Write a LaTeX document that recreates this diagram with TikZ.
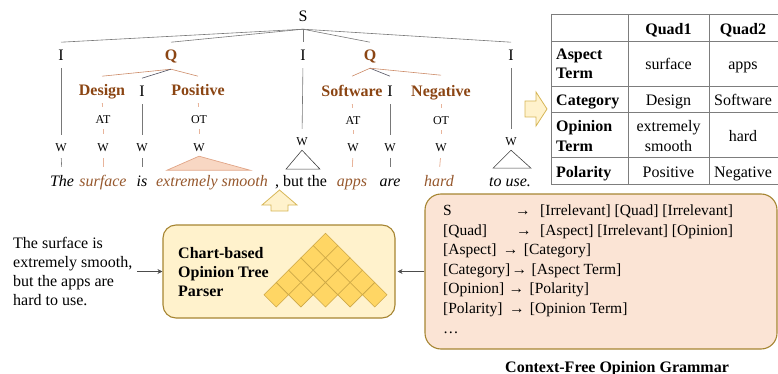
\documentclass[tikz,border=0pt]{standalone}
\usepackage{fontspec}
\setmainfont{Liberation Serif}
\usetikzlibrary{arrows.meta,calc}
\definecolor{brw}{RGB}{139,69,19}
\definecolor{brwit}{RGB}{150,88,45}
\definecolor{salm}{RGB}{232,180,155}
\definecolor{salmd}{RGB}{205,140,105}
\definecolor{trifill}{RGB}{248,215,195}
\definecolor{tridraw}{RGB}{225,165,135}
\definecolor{pbfill}{RGB}{255,242,204}
\definecolor{pbdraw}{RGB}{166,133,50}
\definecolor{arrdraw}{RGB}{214,182,86}
\definecolor{dmfill}{RGB}{255,214,100}
\definecolor{dmdraw}{RGB}{205,168,70}
\definecolor{gbfill}{RGB}{251,228,213}
\definecolor{tline}{RGB}{125,125,125}
\definecolor{treeg}{RGB}{120,120,120}
\definecolor{qig}{RGB}{80,80,95}
\newcommand\myfs{\fontsize{16}{19}\selectfont}
\newcommand\mygr{\fontsize{15.5}{19}\selectfont}
\newcommand\mysm{\fontsize{12}{14}\selectfont}
\begin{document}
\begin{tikzpicture}[x=1pt,y=-1pt,
  lab/.style={inner sep=0pt,anchor=base,font=\myfs,text height=10.6pt,text depth=0pt},
  blab/.style={lab,font=\myfs\bfseries,text=brw},
  sml/.style={inner sep=0pt,anchor=base,font=\mysm,text height=7.9pt,text depth=0pt},
  wrd/.style={inner sep=0pt,anchor=base,font=\myfs\itshape,text height=11pt,text depth=0pt},
  bwrd/.style={wrd,text=brwit},
  gl/.style={draw=treeg,line width=0.6pt},
  sl/.style={draw=salm,line width=0.8pt},
  qsl/.style={draw=salmd,line width=0.6pt},
  qil/.style={draw=qig,line width=0.6pt},
  toW/.style={shorten <=7pt,shorten >=9pt},
  toAT/.style={shorten <=7pt,shorten >=9pt},
  atW/.style={shorten <=5pt,shorten >=10pt},
  wWd/.style={shorten <=6pt,shorten >=8pt},
  conn/.style={draw=black!70,line width=0.6pt,-{Stealth[length=5pt,width=5pt]}},
  txt/.style={inner sep=0pt,anchor=base west,font=\myfs},
  gtxt/.style={inner sep=0pt,anchor=base west,font=\mygr},
  btxt/.style={txt,font=\myfs\bfseries},
  ctxt/.style={inner sep=0pt,anchor=base,font=\myfs},
  fatarrow/.style={fill=pbfill,draw=arrdraw,line width=0.8pt,line join=miter}
]
\useasboundingbox (0,0) rectangle (778,374);

% ---------------- tree ----------------
\node[lab] (S) at (303,22) {S};
\node[lab] (I1) at (61,61) {I};
\node[blab] (Q1) at (171,61) {Q};
\node[lab] (I2) at (303,61) {I};
\node[blab] (Q2) at (370,61) {Q};
\node[lab] (I3) at (511,61) {I};

\node[blab] (Des) at (102,96) {Design};
\node[lab] (Ia) at (142,97) {I};
\node[blab] (Pos) at (198,96) {Positive};
\node[blab] (Sof) at (352,97) {Software};
\node[lab] (Ib) at (390,97) {I};
\node[blab] (Neg) at (441,97) {Negative};

\node[sml] (AT1) at (103,124) {AT};
\node[sml] (OT1) at (199,124) {OT};
\node[sml] (AT2) at (353,125) {AT};
\node[sml] (OT2) at (441,125) {OT};

\node[sml] (W1) at (61,152) {W};
\node[sml] (W2) at (103,152) {W};
\node[sml] (W3) at (142,152) {W};
\node[sml] (W4) at (199,152) {W};
\node[sml] (W5) at (302,146) {W};
\node[sml] (W6) at (353,152) {W};
\node[sml] (W7) at (390,152) {W};
\node[sml] (W8) at (441,152) {W};
\node[sml] (W9) at (511,146) {W};

\node[wrd] (wThe) at (62,186) {The};
\node[bwrd] (wSurf) at (103,186) {surface};
\node[wrd] (wIs) at (142,186) {is};
\node[bwrd] (wExt) at (212,186) {extremely smooth};
\node[lab,text height=11pt] (wBut) at (301,186) {, but the};
\node[bwrd] (wApps) at (352,186) {apps};
\node[wrd] (wAre) at (390,186) {are};
\node[bwrd] (wHard) at (439,186) {hard};
\node[wrd] (wUse) at (510,186) {to use.};

\coordinate (Sb) at ($(S.south)+(0,7)$);
\coordinate (Q1b) at ($(Q1.south)+(0,8)$);
\coordinate (Q2b) at ($(Q2.south)+(0,7)$);

% S edges
\foreach \n in {I1,Q1,I2,Q2,I3}
  \draw[gl] (Sb) -- ($(\n.north)+(0,-8)$);
% Q edges
\draw[qsl] (Q1b) -- ($(Des.north)+(0,-9)$);
\draw[qil] (Q1b) -- ($(Ia.north)+(0,-8)$);
\draw[qsl] (Q1b) -- ($(Pos.north)+(0,-9)$);
\draw[qsl] (Q2b) -- ($(Sof.north)+(0,-10)$);
\draw[qil] (Q2b) -- ($(Ib.north)+(0,-10)$);
\draw[qsl] (Q2b) -- ($(Neg.north)+(0,-11)$);

% gray verticals
\draw[gl,toW] (I1.south) -- (W1.north);
\draw[gl,wWd] (W1.south) -- (wThe.north);
\draw[gl,toW] (Ia.south) -- (W3.north);
\draw[gl,wWd] (W3.south) -- (wIs.north);
\draw[gl,toW] (I2.south) -- (W5.north);
\draw[gl,toW] (Ib.south) -- (W7.north);
\draw[gl,wWd] (W7.south) -- (wAre.north);
\draw[gl,toW] (I3.south) -- (W9.north);

% salmon verticals
\draw[sl,toAT] (Des.south) -- (AT1.north);
\draw[sl,atW] (AT1.south) -- (W2.north);
\draw[sl,wWd] (W2.south) -- (wSurf.north);
\draw[sl,toAT] (Pos.south) -- (OT1.north);
\draw[sl,atW] (OT1.south) -- (W4.north);
\draw[sl,toAT] (Sof.south) -- (AT2.north);
\draw[sl,atW] (AT2.south) -- (W6.north);
\draw[sl,wWd] (W6.south) -- (wApps.north);
\draw[sl,toAT] (Neg.south) -- (OT2.north);
\draw[sl,atW] (OT2.south) -- (W8.north);
\draw[sl,wWd] (W8.south) -- (wHard.north);

% triangles
\draw[fill=trifill,draw=tridraw,line width=0.7pt] ($(W4.south)+(0,4)$) -- ++(-32,14) -- ++(83,0) -- cycle;
\draw[draw=black!75,line width=0.6pt] ($(W5.south)+(0,4)$) -- ++(-16,19) -- ++(34,0) -- cycle;
\draw[draw=black!75,line width=0.6pt] ($(W9.south)+(0,4)$) -- ++(-18,18) -- ++(38,0) -- cycle;

% ---------------- fat arrows ----------------
\draw[fatarrow] (525,101) -- (536,101) -- (536,92) -- (547,109) -- (536,126) -- (536,117) -- (525,117) -- cycle;
\draw[fatarrow] (271,211) -- (271,205) -- (262,205) -- (279.5,190) -- (297,205) -- (288,205) -- (288,211) -- cycle;

% ---------------- table ----------------
\foreach \yy in {14,41,86,112,157,184}
  \draw[tline,line width=0.7pt] (551,\yy) -- (778,\yy);
\foreach \xx in {551,628,709}
  \draw[tline,line width=0.7pt] (\xx,14) -- (\xx,184);
\node[ctxt,font=\myfs\bfseries] (hq1) at (668.5,35) {Quad1};
\node[ctxt,font=\myfs\bfseries] (hq2) at (743,35) {Quad2};
\node[btxt] (rA1) at (556,60) {Aspect};
\node[btxt] (rA2) at (556,79) {Term};
\node[btxt] (rC) at (556,106) {Category};
\node[btxt] (rO1) at (556,132) {Opinion};
\node[btxt] (rO2) at (556,152) {Term};
\node[btxt] (rP) at (556,178) {Polarity};
\node[ctxt] (c11) at (668.5,69.5) {surface};
\node[ctxt] (c12) at (743,69.5) {apps};
\node[ctxt] (c21) at (668.5,106) {Design};
\node[ctxt] (c22) at (743,106) {Software};
\node[ctxt] (c31a) at (668.5,132) {extremely};
\node[ctxt] (c31b) at (668.5,152) {smooth};
\node[ctxt] (c32) at (743,142) {hard};
\node[ctxt] (c41) at (668.5,178) {Positive};
\node[ctxt] (c42) at (743,178) {Negative};

% ---------------- parser ----------------
\node[draw=pbdraw,fill=pbfill,line width=1.1pt,rounded corners=13pt,minimum width=232pt,minimum height=93pt,inner sep=0pt] (parser) at (279,271.5) {};
\node[btxt] (p1) at (178,258) {Chart-based};
\node[btxt] (p2) at (178,277) {Opinion Tree};
\node[btxt] (p3) at (178,296) {Parser};
\pgfmathsetmacro{\hh}{12.3}
\foreach \r in {0,...,4}{
  \pgfmathtruncatemacro{\kmax}{4-\r}
  \foreach \k in {0,...,\kmax}{
    \pgfmathsetmacro{\cx}{264+\hh+\r*\hh+2*\k*\hh}
    \pgfmathsetmacro{\cy}{307-\hh-\r*\hh}
    \draw[fill=dmfill,draw=dmdraw,line width=0.6pt] (\cx-\hh,\cy) -- (\cx,\cy-\hh) -- (\cx+\hh,\cy) -- (\cx,\cy+\hh) -- cycle;
  }
}

% ---------------- input ----------------
\node[anchor=north west,align=left,inner sep=0pt,font=\myfs] (input) at (13,237.5) {The surface is\\extremely smooth,\\but the apps are\\hard to use.};
\draw[conn,shorten <=5pt] (input.east |- parser.west) -- (parser.west);

% ---------------- grammar ----------------
\node[draw=pbdraw,fill=gbfill,line width=1.1pt,rounded corners=16pt,minimum width=352pt,minimum height=155pt,inner sep=0pt] (gram) at (601,271.5) {};
\draw[conn,shorten >=2pt] (gram.west) -- (parser.east);

\node[gtxt] (g1l) at (443,215) {S};
\node[gtxt] (g1a) at (515,215) {→};
\node[gtxt] (g1r) at (540,215) {[Irrelevant] [Quad] [Irrelevant]};
\node[gtxt] (g2l) at (443,235) {[Quad]};
\node[gtxt] (g2a) at (516,235) {→};
\node[gtxt] (g2r) at (540,235) {[Aspect] [Irrelevant] [Opinion]};
\node[gtxt] (g3l) at (443,254) {[Aspect]};
\node[gtxt] (g3a) at ($(g3l.base east)+(6,0)$) {→};
\node[gtxt] (g3r) at ($(g3a.base east)+(5,0)$) {[Category]};
\node[gtxt] (g4l) at (443,274) {[Category]};
\node[gtxt] (g4a) at ($(g4l.base east)+(1,0)$) {→};
\node[gtxt] (g4r) at ($(g4a.base east)+(4,0)$) {[Aspect Term]};
\node[gtxt] (g5l) at (443,293) {[Opinion]};
\node[gtxt] (g5a) at ($(g5l.base east)+(4,0)$) {→};
\node[gtxt] (g5r) at ($(g5a.base east)+(5,0)$) {[Polarity]};
\node[gtxt] (g6l) at (443,313) {[Polarity]};
\node[gtxt] (g6a) at ($(g6l.base east)+(6,0)$) {→};
\node[gtxt] (g6r) at ($(g6a.base east)+(5,0)$) {[Opinion Term]};
\node[gtxt] (g7l) at (443,333) {…};

\node[btxt] (cap) at (505,372) {Context-Free Opinion Grammar};
\end{tikzpicture}
\end{document}
